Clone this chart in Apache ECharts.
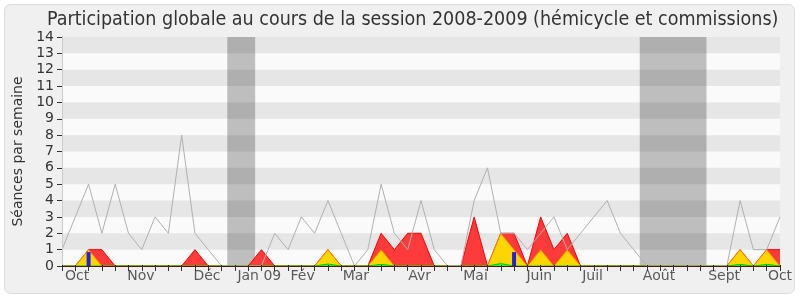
<!DOCTYPE html>
<html><head><meta charset="utf-8">
<script src="https://cdn.jsdelivr.net/npm/echarts@6/dist/echarts.min.js"></script>
<style>html,body{margin:0;padding:0;background:#fff}#c{width:800px;height:300px}</style>
</head><body><div id="c"></div>
<script>
// Weekly index 0..54 (session Oct 2008 - Oct 2009)
var weeks = [];
for (var k = 0; k <= 54; k++) weeks.push(k);
var grayAvg = [1,3,5,2,5,2,1,3,2,8,2,1,0,0,0,0,2,1,3,2,4,2,0,1,5,2,1,4,1,0,0,4,6,2,2,1,2,3,1,2,3,4,2,1,0,0,0,0,0,0,0,4,1,1,3];
var redPres = [0,0,1,1,0,0,0,0,0,0,1,0,0,0,0,1,0,0,0,0,1,0,0,0,2,1,2,2,0,0,0,3,0,2,2,0,3,1,2,0,0,0,0,0,0,0,0,0,0,0,0,1,0,1,1];
var yellowPart = [0,0,1,0,0,0,0,0,0,0,0,0,0,0,0,0,0,0,0,0,1,0,0,0,1,0,0,0,0,0,0,0,0,2,1,0,1,0,1,0,0,0,0,0,0,0,0,0,0,0,0,1,0,1,0];
var greenPart = [0,0,0,0,0,0,0,0,0,0,0,0,0,0,0,0,0,0,0,0,0.12,0,0,0,0.1,0,0,0,0,0,0,0,0,0.15,0,0,0,0,0,0,0,0,0,0,0,0,0,0,0,0,0,0.1,0,0.1,0];
var blueWeeks = [2, 34];
var blueVals = [0.85, 0.85];
var vacations = [[12.43, 14.53], [43.45, 48.47]];
var monthLabels = ['Oct','Nov','Déc','Jan 09','Fév','Mar','Avr','Mai','Juin','Juil','Août','Sept','Oct'];
var monthPos = [1.13, 5.93, 10.9, 14.84, 18.1, 22.1, 26.9, 31.1, 35.9, 39.9, 44.9, 49.8, 54.0];
var yTicks = [0,1,2,3,4,5,6,7,8,9,10,11,12,13,14];

function pairs(arr){ return weeks.map(function(w,i){ return [w, arr[i]]; }); }
var stripeAreas = [];
for (var s = 1; s < 14; s += 2) stripeAreas.push([{yAxis: s}, {yAxis: s + 1}]);
var vacAreas = vacations.map(function(v){ return [{xAxis: v[0]}, {xAxis: v[1]}]; });

var FONT = 'DejaVu Sans';
var chart = echarts.init(document.getElementById('c'), null, {renderer: 'canvas'});
chart.setOption({
  animation: false,
  backgroundColor: '#ffffff',
  graphic: [{
    type: 'rect', z: -10, silent: true,
    shape: {x: 4.5, y: 4.5, width: 790, height: 289, r: 6},
    style: {fill: '#f0f0f0', stroke: '#dcdcdc', lineWidth: 1}
  }],
  title: {
    text: 'Participation globale au cours de la session 2008-2009 (hémicycle et commissions)',
    left: 42, top: 5,
    textStyle: {fontFamily: 'DejaVu Sans Condensed', fontSize: 19.5, fontWeight: 'normal', color: '#333'}
  },
  grid: {left: 62, right: 20, top: 37, bottom: 34, show: true, backgroundColor: '#fafafa', borderWidth: 0},
  xAxis: [{
    type: 'value', min: 0, max: 54, interval: 1, z: 10,
    axisLine: {show: true, lineStyle: {color: '#4a1a0d', width: 1}},
    axisTick: {show: true, length: 5, lineStyle: {color: '#333'}},
    axisLabel: {show: false}, splitLine: {show: false}
  }, {
    type: 'value', min: 0, max: 54, interval: 1, position: 'top', z: 10,
    axisLine: {show: false},
    axisTick: {show: true, length: 1, lineStyle: {color: '#222'}},
    axisLabel: {show: false}, splitLine: {show: false}
  }],
  yAxis: [{
    type: 'value', min: 0, max: 14, interval: 1, z: 10,
    name: 'Séances par semaine', nameLocation: 'middle', nameRotate: 90, nameGap: 37,
    nameTextStyle: {fontFamily: FONT, fontSize: 14, color: '#333'},
    axisLine: {show: true, lineStyle: {color: '#333'}},
    axisTick: {show: true, length: 5, lineStyle: {color: '#333'}},
    axisLabel: {fontFamily: FONT, fontSize: 14, color: '#333', margin: 8,
      formatter: function(v){ return yTicks.indexOf(v) >= 0 ? String(v) : ''; }},
    splitLine: {show: false}
  }, {
    type: 'value', min: 0, max: 14, interval: 1, position: 'right', z: 10,
    axisLine: {show: true, lineStyle: {color: '#cccccc'}},
    axisTick: {show: false}, axisLabel: {show: false}, splitLine: {show: false}
  }],
  series: [
    {type: 'line', name: 'vac', data: [], silent: true,
     markArea: {silent: true, z: 1, itemStyle: {color: '#bebebe'}, data: vacAreas}},
    {type: 'line', name: 'stripes', data: [], silent: true,
     markArea: {silent: true, z: 1.2, itemStyle: {color: 'rgba(0,0,0,0.08)'}, data: stripeAreas}},
    {type: 'line', name: 'red', data: pairs(redPres), symbol: 'none', z: 3,
     lineStyle: {color: '#ff0000', width: 1}, areaStyle: {color: '#ff3a3a', opacity: 1}},
    {type: 'line', name: 'yellow', data: pairs(yellowPart), symbol: 'none', z: 4,
     lineStyle: {color: '#ff7f00', width: 1}, areaStyle: {color: '#ffd500', opacity: 1}},
    {type: 'line', name: 'green', data: pairs(greenPart), symbol: 'none', z: 5,
     lineStyle: {color: '#00cc00', width: 1}, areaStyle: {color: '#33ee33', opacity: 1}},
    {type: 'bar', name: 'blue', data: blueWeeks.map(function(w,i){ return [w, blueVals[i]]; }),
     barWidth: 4, z: 6, itemStyle: {color: '#2222dd'}},
    {type: 'line', name: 'gray', data: pairs(grayAvg), symbol: 'none', z: 7,
     lineStyle: {color: '#b0b0b0', width: 1}},
    {type: 'scatter', name: 'months', symbolSize: 0, z: 11, silent: true,
     data: monthLabels.map(function(m,i){ return {name: m, value: [monthPos[i], 0]}; }),
     label: {show: true, position: 'bottom', distance: 3, formatter: '{b}',
       fontFamily: FONT, fontSize: 14, color: '#333'}}
  ]
});
</script></body></html>
